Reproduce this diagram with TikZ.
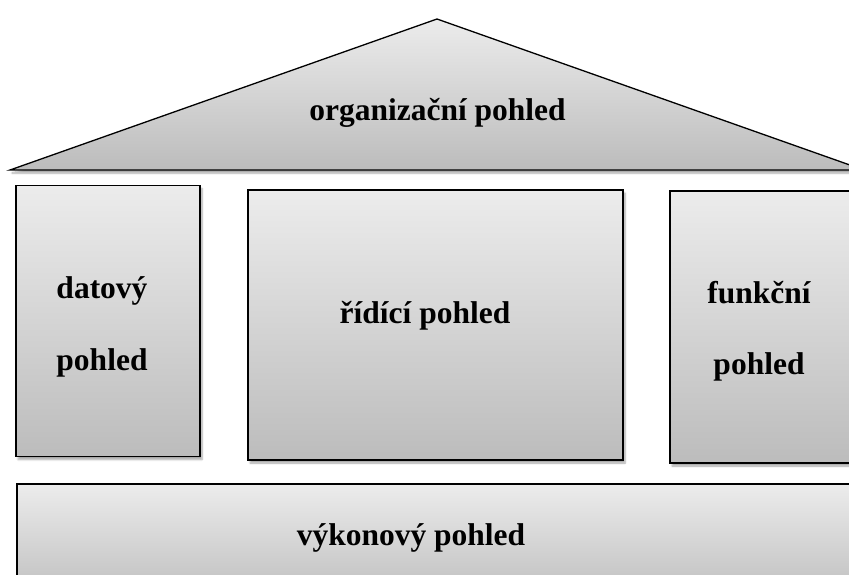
\documentclass[tikz,border=0pt]{standalone}
\usepackage{fontspec}
\setmainfont{Liberation Serif}
\usetikzlibrary{shadows.blur}
\definecolor{shadetop}{RGB}{236,236,236}
\definecolor{shadebot}{RGB}{188,188,188}
\tikzset{
  panel/.style={draw=black, line width=1.3pt, top color=shadetop, bottom color=shadebot,
    blur shadow={shadow xshift=2pt, shadow yshift=-3pt, shadow blur steps=6, shadow opacity=35}},
  label/.style={anchor=base, font=\bfseries\fontsize{31.5}{36}\selectfont, inner sep=0pt}
}
\begin{document}
\begin{tikzpicture}[x=1pt, y=-1pt]
  \useasboundingbox (0,0) rectangle (849,574);
  \begin{scope}
    \clip (0,0) rectangle (849,574);
    % roof
    \path[panel, line join=miter] (10,170) -- (437,19) -- (864,170) -- cycle;
    % three pillars
    \node[panel, minimum width=184pt, minimum height=271pt, inner sep=0pt] (dat) at (108,321) {};
    \node[panel, minimum width=375pt, minimum height=270pt, inner sep=0pt] (rid) at (435.5,325) {};
    \node[panel, minimum width=190pt, minimum height=272pt, inner sep=0pt] (fun) at (765,327) {};
    % base
    \node[panel, minimum width=850pt, minimum height=120pt, inner sep=0pt] (vyk) at (442,544) {};
  \end{scope}
  % captions
  \node[label] (torg) at (437.5,120) {organizační pohled};
  \node[label] (tdat1) at (102,298) {datový};
  \node[label] (tdat2) at (102,370) {pohled};
  \node[label] (trid) at (425,323) {řídící pohled};
  \node[label] (tfun1) at (759,303) {funkční};
  \node[label] (tfun2) at (759,374) {pohled};
  \node[label] (tvyk) at (411,545) {výkonový pohled};
\end{tikzpicture}
\end{document}
